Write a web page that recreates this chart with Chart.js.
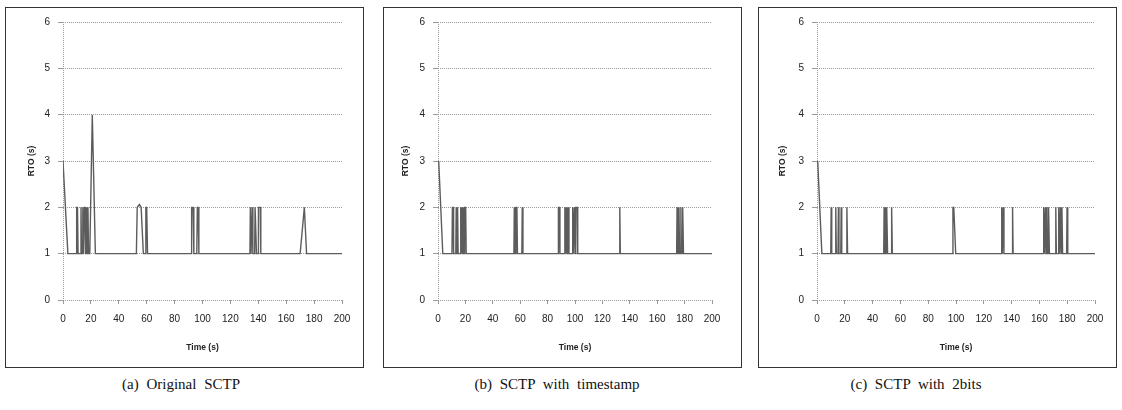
<!DOCTYPE html>
<html>
<head>
<meta charset="utf-8">
<script src="https://cdn.jsdelivr.net/npm/chart.js@4.4.1/dist/chart.umd.min.js"></script>
<style>
  body { margin: 0; background: #fff; width: 1122px; height: 410px; position: relative; overflow: hidden; }
  .panel { position: absolute; top: 7px; width: 359px; height: 361px; border: 1px solid #333; box-sizing: border-box; background: #fff; }
  .panel canvas { display: block; }
  .cap { position: absolute; top: 376px; font-family: "Liberation Serif", "DejaVu Serif", serif; font-size: 15px; color: #111; word-spacing: 4px; white-space: nowrap; transform: translateX(-50%); }
</style>
</head>
<body>
<div class="panel" style="left:5px"><canvas id="chartA" width="357" height="359"></canvas></div>
<div class="panel" style="left:383px"><canvas id="chartB" width="357" height="359"></canvas></div>
<div class="panel" style="left:758px"><canvas id="chartC" width="357" height="359"></canvas></div>
<div class="cap" style="left:181px">(a) Original SCTP</div>
<div class="cap" style="left:557px">(b) SCTP with timestamp</div>
<div class="cap" style="left:916px">(c) SCTP with 2bits</div>

<script>
// Datos: tiempo (s) y RTO (s) de cada variante
const xTicks = [0, 20, 40, 60, 80, 100, 120, 140, 160, 180, 200];
const yTicks = [0, 1, 2, 3, 4, 5, 6];

// (a) Original SCTP
const timeA = [0, 3.5,
  9.4, 9.8, 10.4, 10.8,  12.6, 12.9, 13.3,  13.9, 14.2, 14.6,
  15.0, 15.3, 15.8, 16.1,  16.5, 16.8, 17.2,  17.6, 17.9, 18.3,
  19.2, 21.0, 23.2,
  52.6, 53.2, 54.8, 56.0, 57.6,  59.0, 59.4, 60.0, 60.6,
  91.8, 92.2, 93.2, 93.8,  95.9, 96.3, 96.9, 97.4,
  134.0, 134.3, 134.8,  135.3, 135.6, 136.1,  137.4, 137.7, 138.3, 138.7,
  139.8, 140.1, 141.4, 141.8,
  170.0, 173.0, 174.6,
  200];
const rtoA = [3, 1,
  1, 2, 2, 1,  1, 2, 1,  1, 2, 1,
  1, 2, 2, 1,  1, 2, 1,  1, 2, 1,
  1, 4, 1,
  1, 2, 2.06, 2, 1,  1, 2, 2, 1,
  1, 2, 2, 1,  1, 2, 2, 1,
  1, 2, 1,  1, 2, 1,  1, 2, 2, 1,
  1, 2, 2, 1,
  1, 2, 1,
  1];

// (b) SCTP with timestamp
const timeB = [0.5, 3.5,
  10.2, 10.5, 11.0, 11.4,  13.0, 13.3, 13.7,  14.0, 14.3, 14.7,
  16.3, 16.6, 17.0,  17.3, 17.6, 18.0,  18.3, 18.6, 19.0,  19.3, 19.6, 20.2, 20.6,
  55.4, 55.7, 56.1,  56.6, 56.9, 57.6, 58.0,  61.2, 61.5, 62.0,
  87.6, 87.9, 88.6, 89.0,  92.3, 92.6, 93.0,  93.4, 93.7, 94.1,  94.6, 94.9, 95.6,
  98.0, 98.3, 98.7,  99.2, 99.5, 100.0,  100.4, 100.7, 101.6, 102.0,
  132.4, 132.7, 133.1,
  174.2, 174.5, 174.9,  175.6, 175.9, 176.3,  177.0, 177.3, 177.7,  178.3, 178.6, 179.2,
  200];
const rtoB = [3, 1,
  1, 2, 2, 1,  1, 2, 1,  1, 2, 1,
  1, 2, 1,  1, 2, 1,  1, 2, 1,  1, 2, 2, 1,
  1, 2, 1,  1, 2, 2, 1,  1, 2, 1,
  1, 2, 2, 1,  1, 2, 1,  1, 2, 1,  1, 2, 1,
  1, 2, 1,  1, 2, 1,  1, 2, 2, 1,
  1, 2, 1,
  1, 2, 1,  1, 2, 1,  1, 2, 1,  1, 2, 1,
  1];

// (c) SCTP with 2bits
const timeC = [0.5, 3.5,
  9.9, 10.2, 10.6,  13.2, 13.5, 13.9,  15.1, 15.4, 15.8,  17.1, 17.4, 17.8,  21.2, 21.5, 22.0,
  48.0, 48.3, 48.7,  49.0, 49.3, 49.7,  50.0, 50.3, 50.8,  53.4, 53.7, 54.2,
  97.5, 97.8, 98.4, 99.8,
  132.6, 132.9, 133.3,  133.7, 134.0, 134.5,  140.4, 140.7, 141.1,
  162.8, 163.1, 163.5,  164.0, 164.3, 164.7,  165.1, 165.4, 165.8,  166.3, 166.6, 167.2,
  171.5, 171.8, 172.2,  173.6, 173.9, 174.3,  174.8, 175.1, 175.5,  176.0, 176.2, 176.7,
  179.6, 179.9, 180.4,
  200];
const rtoC = [3, 1,
  1, 2, 1,  1, 2, 1,  1, 2, 1,  1, 2, 1,  1, 2, 1,
  1, 2, 1,  1, 2, 1,  1, 2, 1,  1, 2, 1,
  1, 2, 2, 1,
  1, 2, 1,  1, 2, 1,  1, 2, 1,
  1, 2, 1,  1, 2, 1,  1, 2, 1,  1, 2, 1,
  1, 2, 1,  1, 2, 1,  1, 2, 1,  1, 2, 1,
  1, 2, 1,
  1];

const tickFont = { family: "'Liberation Sans', Arial, sans-serif", size: 10 };
const titleFont = { family: "'Liberation Sans', Arial, sans-serif", size: 8.5, weight: 'bold' };
const gridGray = '#9a9a9a';

function makeChart(id, times, rto, yWidth, padRight, yTitlePad) {
  const pts = times.map((t, i) => ({ x: t, y: rto[i] }));
  return new Chart(document.getElementById(id).getContext('2d'), {
    type: 'line',
    data: {
      datasets: [{
        data: pts,
        borderColor: '#5c5c5c',
        borderWidth: 1.4,
        pointRadius: 0,
        tension: 0,
        fill: false
      }]
    },
    options: {
      responsive: false,
      animation: false,
      layout: { padding: { left: 0, top: 13, right: padRight, bottom: 0 } },
      plugins: { legend: { display: false }, tooltip: { enabled: false } },
      scales: {
        x: {
          type: 'linear',
          min: 0,
          max: 200,
          afterBuildTicks: s => { s.ticks = xTicks.map(v => ({ value: v })); },
          afterFit: s => { s.height = 67; },
          ticks: { font: tickFont, color: '#222', padding: 9, maxRotation: 0 },
          grid: {
            color: c => c.tick && c.tick.value === 0 ? gridGray : 'rgba(0,0,0,0)',
            tickColor: gridGray,
            tickLength: 4,
            lineWidth: 1
          },
          border: { display: false, dash: [1, 1] },
          title: { display: true, text: 'Time (s)', font: titleFont, color: '#222', padding: { top: 4, bottom: 14 } }
        },
        y: {
          min: 0,
          max: 6,
          afterBuildTicks: s => { s.ticks = yTicks.map(v => ({ value: v })); },
          afterFit: s => { s.width = yWidth; },
          ticks: { font: tickFont, color: '#222', padding: 8 },
          grid: { color: gridGray, tickColor: gridGray, tickLength: 5, lineWidth: 1 },
          border: { display: false, dash: [1, 1] },
          title: { display: true, text: 'RTO (s)', font: titleFont, color: '#222', padding: { top: yTitlePad, bottom: 0 } }
        }
      }
    }
  });
}

makeChart('chartA', timeA, rtoA, 57, 21, 21);
makeChart('chartB', timeB, rtoB, 54, 29, 17);
makeChart('chartC', timeC, rtoC, 58, 21, 19);
</script>
</body>
</html>
